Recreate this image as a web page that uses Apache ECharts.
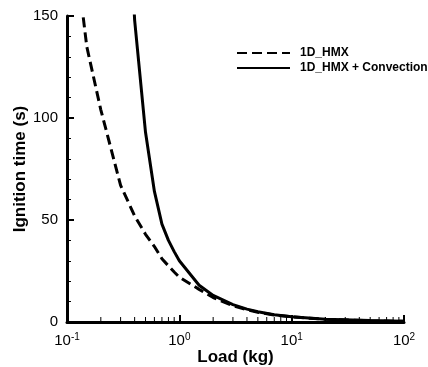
<!DOCTYPE html>
<html>
<head>
<meta charset="utf-8">
<script src="https://cdn.jsdelivr.net/npm/echarts@6/dist/echarts.min.js"></script>
<style>
  html, body { margin: 0; padding: 0; background: #fff; }
  #chart { width: 428px; height: 367px; }
</style>
</head>
<body>
<div id="chart"></div>
<script>
// load (kg) -> ignition time (s)
const hmxLoads = [0.1, 0.15, 0.2, 0.3, 0.4, 0.5, 0.6, 0.7, 0.8, 0.9, 1, 1.5, 2, 3, 4, 5, 7, 10, 20, 50, 100];
const hmxTimes = [215, 135, 104, 67, 52, 43, 37, 31, 27.5, 24.5, 22, 16, 12, 8, 6, 4.8, 3.4, 2.5, 1.3, 0.6, 0.35];

const convLoads = [0.3, 0.4, 0.5, 0.6, 0.7, 0.8, 0.9, 1, 1.5, 2, 3, 4, 5, 7, 10, 20, 50, 100];
const convTimes = [280, 148, 93, 64, 48, 40, 34.5, 30, 18, 13, 8.5, 6.3, 5, 3.6, 2.6, 1.4, 0.7, 0.4];

const seriesNames = ["1D_HMX", "1D_HMX + Convection"];
const xMinorTicks = [0.2, 0.3, 0.4, 0.5, 0.6, 0.7, 0.8, 0.9, 2, 3, 4, 5, 6, 7, 8, 9, 20, 30, 40, 50, 60, 70, 80, 90];

const font = "'Liberation Sans', Arial, sans-serif";
const pair = (xs, ys) => xs.map((x, i) => [x, ys[i]]);

const chart = echarts.init(document.getElementById("chart"));
chart.setOption({
  animation: false,
  grid: { left: 67, right: 24, top: 16, bottom: 45, outerBoundsMode: "none", containLabel: false },
  legend: {
    data: seriesNames,
    orient: "vertical",
    left: 231,
    top: 42,
    itemWidth: 53,
    itemHeight: 10,
    itemGap: 3,
    itemStyle: { opacity: 0 },
    textStyle: { fontFamily: font, fontSize: 12, fontWeight: "bold", color: "#000", padding: [0, 0, 0, 5] }
  },
  xAxis: {
    type: "log",
    logBase: 10,
    min: 0.1,
    max: 100,
    name: "Load (kg)",
    nameLocation: "middle",
    nameGap: 27,
    nameMoveOverlap: false,
    nameTextStyle: { fontFamily: font, fontSize: 17, fontWeight: "bold", color: "#000" },
    axisLine: { onZero: false, lineStyle: { color: "#000", width: 3 } },
    axisTick: { inside: true, length: 7, lineStyle: { color: "#000", width: 2 } },
    splitLine: { show: false },
    axisLabel: {
      margin: 10,
      formatter: (v) => "{b|10}{s|" + Math.round(Math.log10(v)) + "}",
      rich: {
        b: { fontFamily: font, fontSize: 15, color: "#000" },
        s: { fontFamily: font, fontSize: 10, color: "#000", padding: [0, 0, 8, 0] }
      }
    }
  },
  yAxis: {
    type: "value",
    min: 0,
    max: 150,
    interval: 50,
    name: "Ignition time (s)",
    nameLocation: "middle",
    nameGap: 38,
    nameMoveOverlap: false,
    nameTextStyle: { fontFamily: font, fontSize: 17, fontWeight: "bold", color: "#000" },
    axisLine: { show: true, lineStyle: { color: "#000", width: 3 } },
    axisTick: { inside: true, length: 7, lineStyle: { color: "#000", width: 2 } },
    minorTick: { show: true, splitNumber: 5, length: 4, lineStyle: { color: "#000", width: 1 } },
    splitLine: { show: false },
    axisLabel: { margin: 9, fontFamily: font, fontSize: 15, color: "#000" }
  },
  series: [
    {
      name: seriesNames[0],
      type: "line",
      data: pair(hmxLoads, hmxTimes),
      symbol: "none",
      lineStyle: { color: "#000", width: 3, type: [10, 5] },
      itemStyle: { color: "#000" }
    },
    {
      name: seriesNames[1],
      type: "line",
      data: pair(convLoads, convTimes),
      symbol: "none",
      lineStyle: { color: "#000", width: 3 },
      itemStyle: { color: "#000" }
    },
    {
      // minor log ticks along the bottom axis
      type: "custom",
      silent: true,
      clip: false,
      data: xMinorTicks.map((x) => [x, 0]),
      renderItem: (params, api) => {
        const p = api.coord([api.value(0), 0]);
        return {
          type: "line",
          shape: { x1: p[0], y1: p[1], x2: p[0], y2: p[1] - 5 },
          style: { stroke: "#000", lineWidth: 1 }
        };
      }
    }
  ]
});
</script>
</body>
</html>
